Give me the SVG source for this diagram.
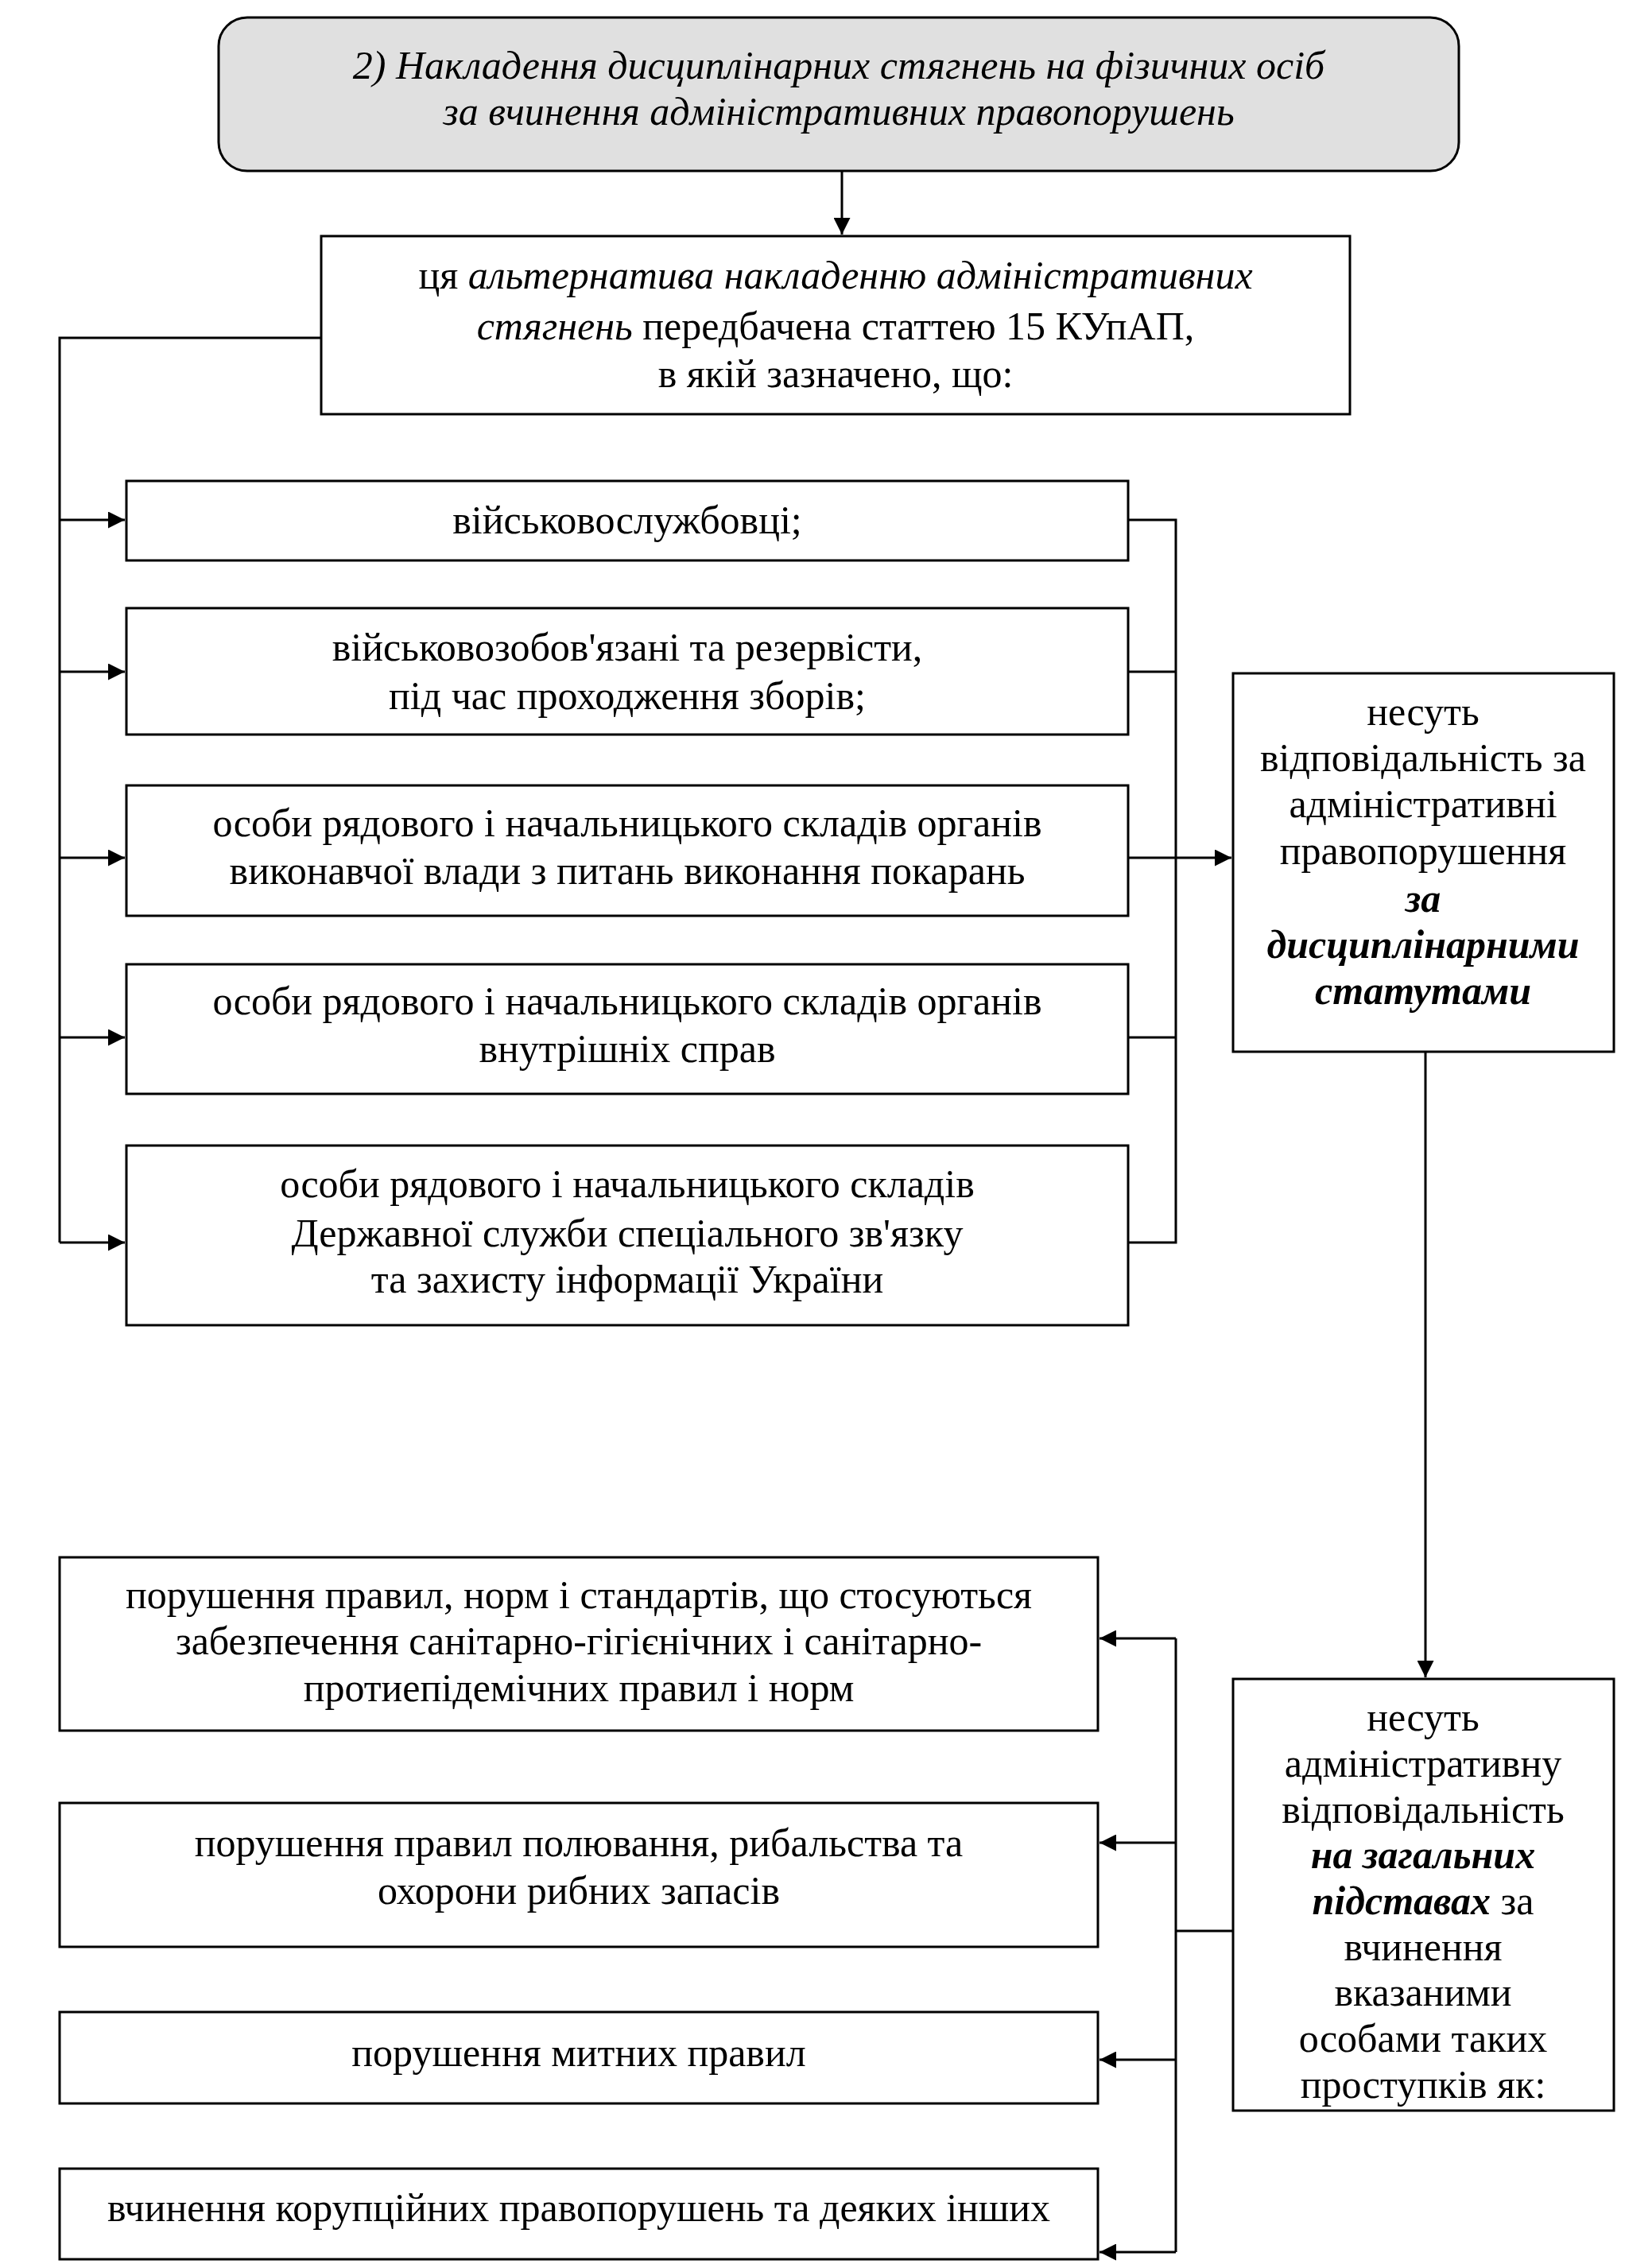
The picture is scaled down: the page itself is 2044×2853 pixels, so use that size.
<svg xmlns="http://www.w3.org/2000/svg" width="2044" height="2853" viewBox="0 0 2044 2853">
<defs>
<style>
.b{fill:#fff;stroke:#000;stroke-width:3}
.t{font-family:"Liberation Serif","Times New Roman",serif;font-size:50px;text-anchor:middle;fill:#000}
.i{font-style:italic}
.bi{font-style:italic;font-weight:bold}
.c{fill:none;stroke:#000;stroke-width:3}
</style>
<marker id="ah" viewBox="0 0 10 10" refX="10" refY="5" markerWidth="8" markerHeight="7" markerUnits="strokeWidth" orient="auto"><path d="M0,0L10,5L0,10z" fill="#000"/></marker>
</defs>
<rect width="2044" height="2853" fill="#fff"/>
<g id="connectors">
<path class="c" d="M1059,215V295" marker-end="url(#ah)"/>
<path class="c" d="M404,425H75V1563"/>
<path class="c" d="M75,654H157" marker-end="url(#ah)"/>
<path class="c" d="M75,845H157" marker-end="url(#ah)"/>
<path class="c" d="M75,1079H157" marker-end="url(#ah)"/>
<path class="c" d="M75,1305H157" marker-end="url(#ah)"/>
<path class="c" d="M75,1563H157" marker-end="url(#ah)"/>
<path class="c" d="M1419,654H1479V1563H1419M1419,845H1479M1419,1305H1479"/>
<path class="c" d="M1419,1079H1549" marker-end="url(#ah)"/>
<path class="c" d="M1793,1323V2110" marker-end="url(#ah)"/>
<path class="c" d="M1551,2429H1479M1479,2061V2833"/>
<path class="c" d="M1479,2061H1383" marker-end="url(#ah)"/>
<path class="c" d="M1479,2318H1383" marker-end="url(#ah)"/>
<path class="c" d="M1479,2591H1383" marker-end="url(#ah)"/>
<path class="c" d="M1479,2833H1383" marker-end="url(#ah)"/>
</g>
<g id="title"><rect x="275" y="22" width="1560" height="193" rx="36" fill="#e0e0e0" stroke="#000" stroke-width="3"/>
<text class="t i" x="1055" y="99">2) Накладення дисциплінарних стягнень на фізичних осіб</text>
<text class="t i" x="1055" y="157">за вчинення адміністративних правопорушень</text></g>
<g id="alt"><rect class="b" x="404" y="297" width="1294" height="224"/>
<text class="t" x="1051" y="363">ця <tspan class="i">альтернатива накладенню адміністративних</tspan></text>
<text class="t" x="1051" y="427"><tspan class="i">стягнень</tspan> передбачена статтею 15 КУпАП,</text>
<text class="t" x="1051" y="487">в якій зазначено, що:</text></g>
<g id="a"><rect class="b" x="159" y="605" width="1260" height="100"/><text class="t" x="789" y="671">військовослужбовці;</text></g>
<g id="b"><rect class="b" x="159" y="765" width="1260" height="159"/><text class="t" x="789" y="831">військовозобов'язані та резервісти,</text><text class="t" x="789" y="892">під час проходження зборів;</text></g>
<g id="c"><rect class="b" x="159" y="988" width="1260" height="164"/><text class="t" x="789" y="1052">особи рядового і начальницького складів органів</text><text class="t" x="789" y="1112">виконавчої влади з питань виконання покарань</text></g>
<g id="d"><rect class="b" x="159" y="1213" width="1260" height="163"/><text class="t" x="789" y="1276">особи рядового і начальницького складів органів</text><text class="t" x="789" y="1336">внутрішніх справ</text></g>
<g id="e"><rect class="b" x="159" y="1441" width="1260" height="226"/><text class="t" x="789" y="1506">особи рядового і начальницького складів</text><text class="t" x="789" y="1568">Державної служби спеціального зв'язку</text><text class="t" x="789" y="1626">та захисту інформації України</text></g>
<g id="r1"><rect class="b" x="1551" y="847" width="479" height="476"/>
<text class="t" x="1790" y="912">несуть</text>
<text class="t" x="1790" y="970">відповідальність за</text>
<text class="t" x="1790" y="1028">адміністративні</text>
<text class="t" x="1790" y="1087">правопорушення</text>
<text class="t bi" x="1790" y="1147">за</text>
<text class="t bi" x="1790" y="1205">дисциплінарними</text>
<text class="t bi" x="1790" y="1263">статутами</text></g>
<g id="r2"><rect class="b" x="1551" y="2112" width="479" height="543"/>
<text class="t" x="1790" y="2177">несуть</text>
<text class="t" x="1790" y="2235">адміністративну</text>
<text class="t" x="1790" y="2293">відповідальність</text>
<text class="t bi" x="1790" y="2350">на загальних</text>
<text class="t" x="1790" y="2408"><tspan class="bi">підставах</tspan> за</text>
<text class="t" x="1790" y="2466">вчинення</text>
<text class="t" x="1790" y="2523">вказаними</text>
<text class="t" x="1790" y="2581">особами таких</text>
<text class="t" x="1790" y="2639">проступків як:</text></g>
<g id="f"><rect class="b" x="75" y="1959" width="1306" height="218"/><text class="t" x="728" y="2023">порушення правил, норм і стандартів, що стосуються</text><text class="t" x="728" y="2081">забезпечення санітарно-гігієнічних і санітарно-</text><text class="t" x="728" y="2140">протиепідемічних правил і норм</text></g>
<g id="g"><rect class="b" x="75" y="2268" width="1306" height="181"/><text class="t" x="728" y="2335">порушення правил полювання, рибальства та</text><text class="t" x="728" y="2395">охорони рибних запасів</text></g>
<g id="h"><rect class="b" x="75" y="2531" width="1306" height="115"/><text class="t" x="728" y="2599">порушення митних правил</text></g>
<g id="i"><rect class="b" x="75" y="2728" width="1306" height="114"/><text class="t" x="728" y="2794">вчинення корупційних правопорушень та деяких інших</text></g>
</svg>
